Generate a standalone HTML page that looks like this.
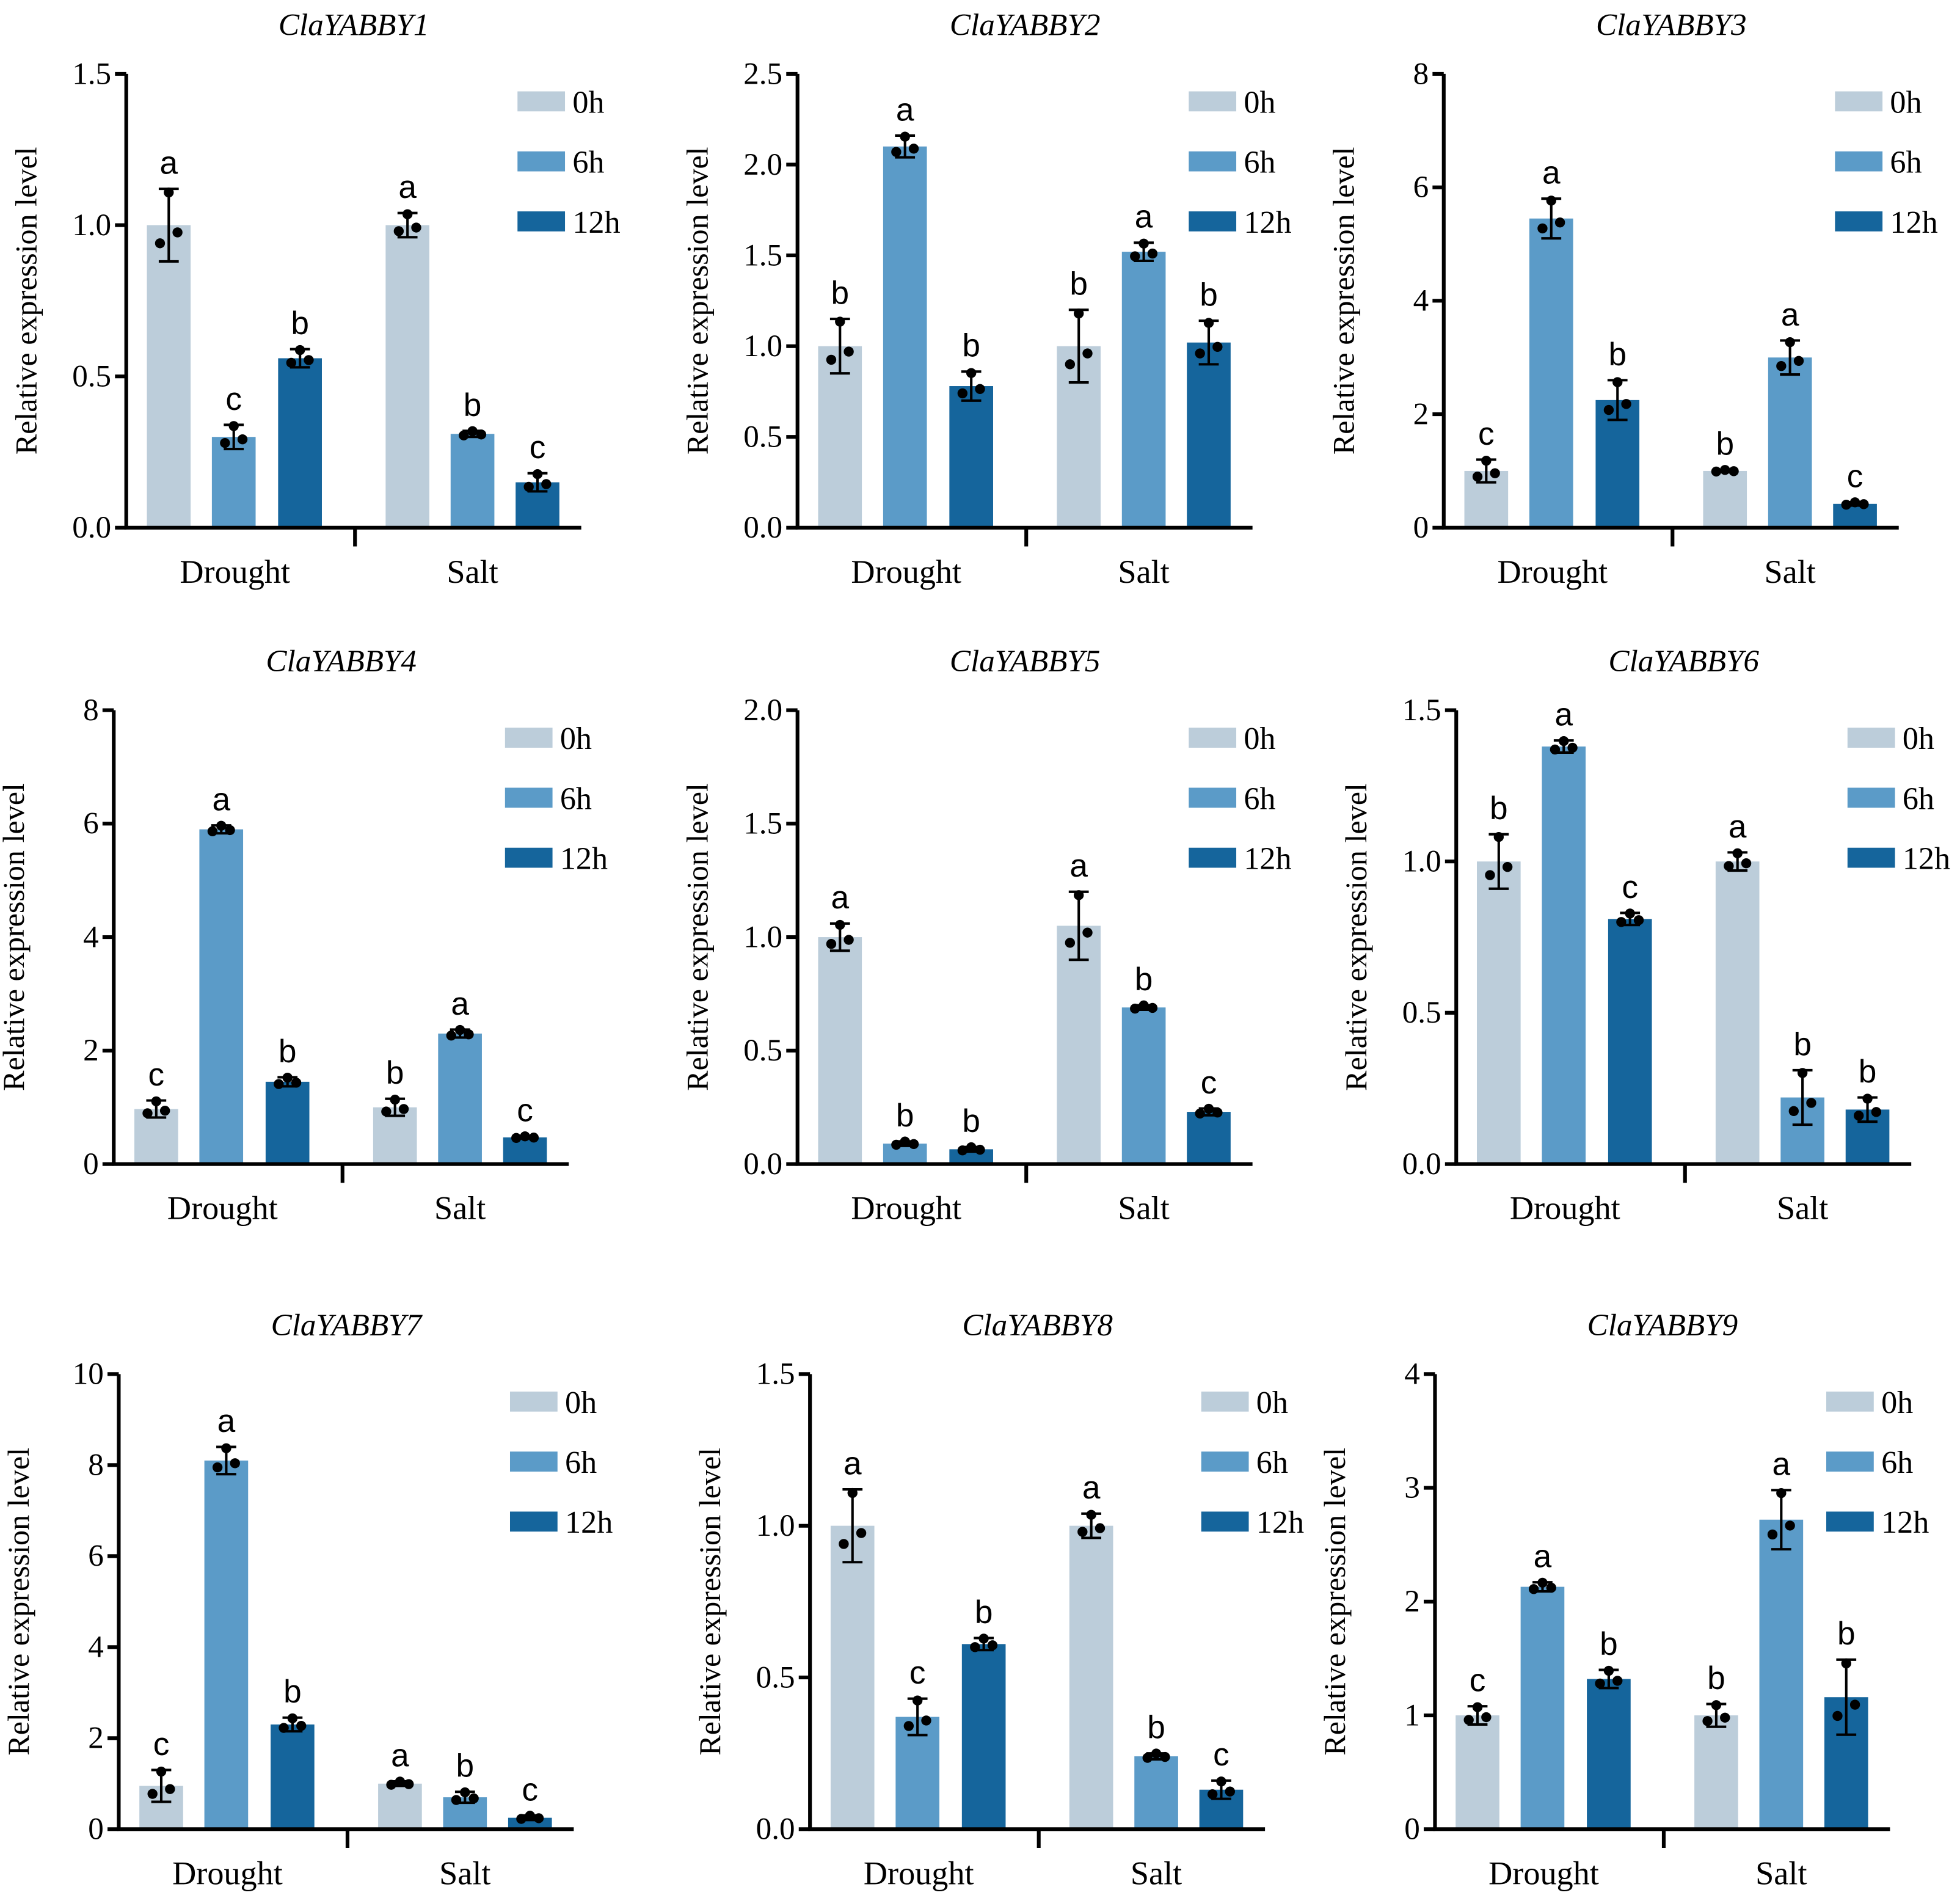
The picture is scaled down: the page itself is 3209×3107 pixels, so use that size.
<!DOCTYPE html>
<html><head><meta charset="utf-8"><style>html,body{margin:0;padding:0;background:#fff}svg{display:block}</style></head>
<body>
<svg id="fig" xmlns="http://www.w3.org/2000/svg" width="3209" height="3107" viewBox="0 0 1568 1518"></svg>
<script>
const titles=["ClaYABBY1","ClaYABBY2","ClaYABBY3","ClaYABBY4","ClaYABBY5","ClaYABBY6","ClaYABBY7","ClaYABBY8","ClaYABBY9"];
const yMax=[1.5,2.5,8,8,2.0,1.5,10,1.5,4];
const yStep=[0.5,0.5,2,2,0.5,0.5,2,0.5,1];
const yDec=[1,1,0,0,1,1,0,1,0];
const series=["0h","6h","12h"];
const groups=["Drought","Salt"];
// means: [D0,D6,D12,S0,S6,S12]
const means=[
[1.0,0.30,0.56,1.0,0.31,0.15],
[1.0,2.10,0.78,1.0,1.52,1.02],
[1.0,5.45,2.25,1.0,3.0,0.42],
[0.97,5.9,1.45,1.0,2.3,0.47],
[1.0,0.09,0.065,1.05,0.69,0.23],
[1.0,1.38,0.81,1.0,0.22,0.18],
[0.95,8.1,2.3,1.0,0.7,0.25],
[1.0,0.37,0.61,1.0,0.24,0.13],
[1.0,2.13,1.32,1.0,2.72,1.16]];
const errs=[
[0.12,0.04,0.03,0.04,0.01,0.03],
[0.15,0.06,0.08,0.2,0.05,0.12],
[0.2,0.35,0.35,0.02,0.3,0.03],
[0.15,0.07,0.08,0.15,0.07,0.02],
[0.06,0.01,0.01,0.15,0.01,0.015],
[0.09,0.02,0.02,0.03,0.09,0.04],
[0.35,0.3,0.15,0.05,0.12,0.05],
[0.12,0.06,0.02,0.04,0.01,0.03],
[0.08,0.04,0.08,0.1,0.26,0.33]];
const letters=[
["a","c","b","a","b","c"],["b","a","b","b","a","b"],["c","a","b","b","a","c"],
["c","a","b","b","a","c"],["a","b","b","a","b","c"],["b","a","c","a","b","b"],
["c","a","b","a","b","c"],["a","c","b","a","b","c"],["c","a","b","b","a","b"]];
const origins=[[101,422,59],[638,422,59],[1155,422,59],[91,931,568],[638,931,568],[1165,931,568],[95,1463,1099],[648,1463,1099],[1148,1463,1099]];
const colors=["#bccdda","#5b9bc8","#15659c"];
const barOff=[34,86,139,225,277,329];
const NS="http://www.w3.org/2000/svg";
const svg=document.getElementById('fig');
function mk(tag,attrs,parent,txt){const e=document.createElementNS(NS,tag);for(const k in attrs)e.setAttribute(k,attrs[k]);if(txt!==undefined)e.textContent=txt;parent.appendChild(e);return e;}
const SERIF='"Liberation Serif", serif', SANS='"Liberation Sans", sans-serif';
for(let p=0;p<9;p++){
  const [ax,y0,yt]=origins[p];
  const g=mk('g',{},svg);
  
  
  const ys=v=>y0-(v/yMax[p])*(y0-yt);
  const t=mk('text',{x:ax+182,y:yt-31,'text-anchor':'middle','font-family':SERIF,'font-style':'italic','font-size':25},g,titles[p]);
  
  
  const yl=mk('text',{x:0,y:0,transform:`translate(${ax-72},${(y0+yt)/2}) rotate(-90)`,'text-anchor':'middle','font-family':SERIF,'font-size':24.5},g,'Relative expression level');
  
  
  for(let i=0;i<6;i++){
    const cx=ax+barOff[i], m=means[p][i], e=errs[p][i];
    const b=mk('rect',{x:cx-17.5,y:ys(m),width:35,height:y0-ys(m),fill:colors[i%3]},g);
    
    
    const eb=mk('path',{d:`M${cx},${ys(m+e)}V${ys(Math.max(m-e,0))}M${cx-8},${ys(m+e)}H${cx+8}M${cx-8},${ys(Math.max(m-e,0))}H${cx+8}`,stroke:'#000','stroke-width':2,fill:'none'},g);
    
    
    const pts=[[0,m+e*0.9],[-7,m-e*0.5],[7,m-e*0.2]];
    for(const [dx,v] of pts){const c=mk('circle',{cx:cx+dx,cy:ys(Math.max(v,0)),r:4,fill:'#000'},g);
      
      }
    const lt=mk('text',{x:cx,y:ys(m+e)-12,'text-anchor':'middle','font-family':SANS,'font-size':26},g,letters[p][i]);
    
    
  }
  const axl=mk('path',{d:`M${ax},${yt}V${y0}H${ax+364}M${ax+183},${y0}V${y0+15}`,stroke:'#000','stroke-width':3,fill:'none'},g);
  
  
  const n=Math.round(yMax[p]/yStep[p]);
  for(let k=0;k<=n;k++){const v=k*yStep[p],y=ys(v);
    const tk=mk('path',{d:`M${ax-9},${y}H${ax}`,stroke:'#000','stroke-width':3},g);
    
    
    const tl=mk('text',{x:ax-12,y:y+8,'text-anchor':'end','font-family':SERIF,'font-size':25},g,v.toFixed(yDec[p]));
    
    }
  groups.forEach((gn,j)=>{const c=mk('text',{x:ax+87+190*j,y:y0+44,'text-anchor':'middle','font-family':SERIF,'font-size':26.5},g,gn);
    
    });
  series.forEach((s,j)=>{const ly=yt+22+48*j;
    const r=mk('rect',{x:ax+313,y:ly-8,width:38,height:16,fill:colors[j]},g);
    
    
    const lt=mk('text',{x:ax+357,y:ly+9,'font-family':SERIF,'font-size':25.5},g,s);
    
    });
}
</script>
</body></html>
